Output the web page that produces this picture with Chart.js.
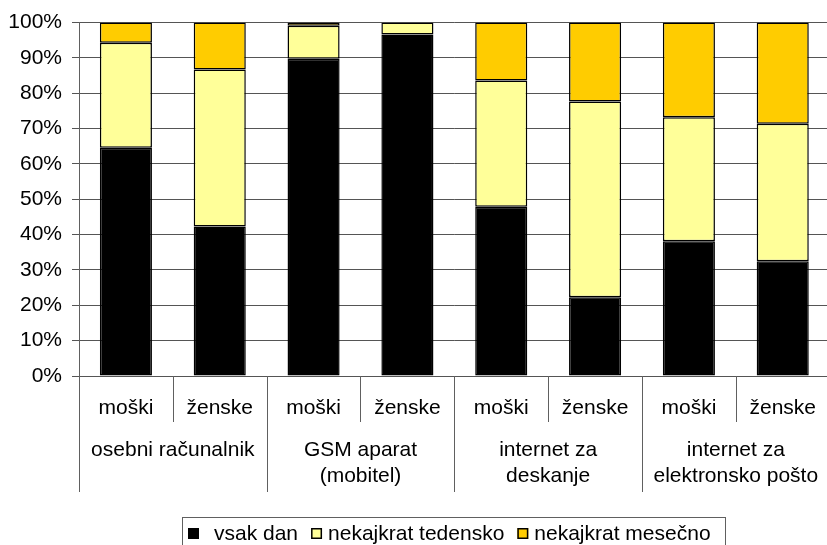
<!DOCTYPE html>
<html>
<head>
<meta charset="utf-8">
<script src="https://cdn.jsdelivr.net/npm/chart.js@4/dist/chart.umd.min.js"></script>
<style>
  html, body { margin: 0; padding: 0; background: #ffffff; overflow: hidden; }
  #wrap { width: 827px; height: 545px; position: relative; overflow: hidden; }
  #c { display: block; }
</style>
</head>
<body>
<div id="wrap"><canvas id="c" width="836" height="545"></canvas></div>
<script>
// ---- data ----
const categories = ['moški', 'ženske', 'moški', 'ženske', 'moški', 'ženske', 'moški', 'ženske'];
const groupLabels = [
  ['osebni računalnik'],
  ['GSM aparat', '(mobitel)'],
  ['internet za', 'deskanje'],
  ['internet za', 'elektronsko pošto']
];
const seriesNames = ['vsak dan', 'nekajkrat tedensko', 'nekajkrat mesečno'];
const vsakDan  = [64.6, 42.3, 89.8, 96.6, 47.9, 22.3, 38.1, 32.5];
const tedensko = [29.7, 44.4, 9.3, 3.4, 35.7, 55.4, 35.1, 38.9];
const mesecno  = [5.7, 13.3, 0.9, 0, 16.4, 22.3, 26.8, 28.6];
const yTickValues = [0, 10, 20, 30, 40, 50, 60, 70, 80, 90, 100];

const FONT = "'Liberation Sans', Arial, sans-serif";
const colors = ['#000000', '#FFFF99', '#FFCC00'];

const groupPlugin = {
  id: 'groupAxis',
  afterDraw(chart) {
    const ctx = chart.ctx;
    const xs = chart.scales.x;
    const area = chart.chartArea;
    const n = categories.length;
    const cw = xs.width / n;
    ctx.save();
    // separators
    ctx.strokeStyle = '#606060';
    ctx.lineWidth = 1;
    for (let i = 0; i <= n; i++) {
      const x = Math.round(xs.getPixelForValue(i) - cw / 2) + 0.5;
      const len = (i % 2 === 0) ? 492 : 422;
      ctx.beginPath();
      ctx.moveTo(x, area.bottom);
      ctx.lineTo(x, len);
      ctx.stroke();
    }
    // group labels
    ctx.fillStyle = '#000';
    ctx.font = '21px ' + FONT;
    ctx.textAlign = 'center';
    ctx.textBaseline = 'alphabetic';
    groupLabels.forEach((lines, g) => {
      const cx = (xs.getPixelForValue(2 * g) + xs.getPixelForValue(2 * g + 1)) / 2;
      lines.forEach((t, k) => ctx.fillText(t, cx, 456 + k * 26));
    });
    // legend
    ctx.strokeStyle = '#606060';
    ctx.lineWidth = 1;
    ctx.strokeRect(182.5, 517.5, 543, 40);
    ctx.textAlign = 'left';
    let x = 188;
    chart.data.datasets.forEach((ds, i) => {
      ctx.fillStyle = ds.backgroundColor;
      ctx.fillRect(x, 528, 11, 11);
      ctx.strokeStyle = '#000';
      ctx.lineWidth = 1.5;
      ctx.strokeRect(x + 0.75, 528.75, 9.5, 9.5);
      const tx = x + (i === 0 ? 26 : 17);
      ctx.fillStyle = '#000';
      ctx.fillText(ds.label, tx, 540);
      x = tx + ctx.measureText(ds.label).width + 13;
    });
    ctx.restore();
  }
};

new Chart(document.getElementById('c'), {
  type: 'bar',
  data: {
    labels: categories,
    datasets: [
      { label: seriesNames[0], data: vsakDan, backgroundColor: colors[0] },
      { label: seriesNames[1], data: tedensko, backgroundColor: colors[1] },
      { label: seriesNames[2], data: mesecno, backgroundColor: colors[2] }
    ].map(d => Object.assign(d, {
      borderColor: '#000', borderWidth: 1.5, borderSkipped: false,
      barPercentage: 0.555, categoryPercentage: 1.0
    }))
  },
  options: {
    responsive: false,
    animation: false,
    devicePixelRatio: 1,
    layout: { padding: { top: 22, right: 0, bottom: 0, left: 0 } },
    plugins: { legend: { display: false }, tooltip: { enabled: false } },
    scales: {
      x: {
        stacked: true,
        offset: true,
        grid: { display: false, drawTicks: false },
        border: { display: false },
        ticks: { color: '#000', font: { family: FONT, size: 21 }, padding: 20, maxRotation: 0, autoSkip: false },
        afterFit(s) { s.height = 169; }
      },
      y: {
        stacked: true,
        min: 0, max: 100,
        afterBuildTicks(s) { s.ticks = yTickValues.map(v => ({ value: v })); },
        grid: { color: '#555', lineWidth: 1, tickLength: 7, drawTicks: true },
        border: { display: true, color: '#606060' },
        ticks: { color: '#000', font: { family: FONT, size: 21 }, padding: 10, callback: v => v + '%' },
        afterFit(s) { s.width = 79; }
      }
    }
  },
  plugins: [groupPlugin]
});
</script>
</body>
</html>
